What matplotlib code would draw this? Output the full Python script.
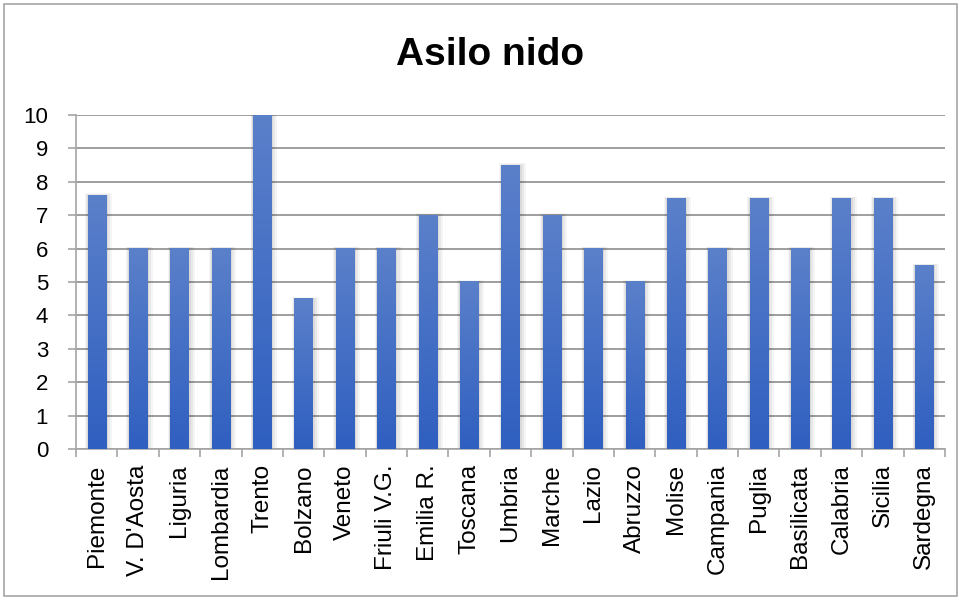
import numpy as np
import matplotlib.pyplot as plt
from matplotlib.patches import Rectangle

# dati: valori
regioni = ["Piemonte", "V. D'Aosta", "Liguria", "Lombardia", "Trento", "Bolzano",
           "Veneto", "Friuli V.G.", "Emilia R.", "Toscana", "Umbria", "Marche",
           "Lazio", "Abruzzo", "Molise", "Campania", "Puglia", "Basilicata",
           "Calabria", "Sicilia", "Sardegna"]
valori = [7.6, 6, 6, 6, 10, 4.5, 6, 6, 7, 5, 8.5, 7, 6, 5, 7.5, 6, 7.5, 6, 7.5, 7.5, 5.5]
yticks = list(range(0, 11))

plt.rcParams['font.family'] = ['Liberation Sans', 'DejaVu Sans']

fig = plt.figure(figsize=(9.64, 5.98), dpi=100)
W, H = 964, 598
ax = fig.add_axes([76 / W, 1 - 449 / H, (945 - 76) / W, (449 - 115) / H])

# bordo del grafico
fig.patches.append(Rectangle((4 / W, 2 / H), (957 - 4) / W, (594 - 2) / H,
                             transform=fig.transFigure, fill=False,
                             edgecolor='#a6a6a6', lw=1.2))

x = np.arange(len(regioni))
bw = 0.44
grad = np.linspace(0, 1, 100).reshape(-1, 1)
cmap = plt.matplotlib.colors.LinearSegmentedColormap.from_list(
    'g', ['#2f5fc0', '#5b80ca'])

for xi, v in zip(x, valori):
    # ombra
    for k, a in enumerate([0.04, 0.05, 0.06]):
        d = 0.035 * (3 - k)
        ax.add_patch(Rectangle((xi - bw / 2 - d * 0.6, 0), bw + 2 * d, v + d * 0.5,
                               facecolor='black', alpha=a, lw=0, zorder=2))
    ax.imshow(grad, extent=(xi - bw / 2, xi + bw / 2, 0, v), origin='lower',
              cmap=cmap, aspect='auto', zorder=3)

ax.set_xlim(-0.5, len(regioni) - 0.5)
ax.set_ylim(0, 10)
ax.set_yticks(yticks)
ax.set_yticklabels([str(t) for t in yticks], fontsize=16)
ax.set_xticks(x)
ax.set_xticklabels(regioni, rotation=90, fontsize=17.5)
ax.tick_params(axis='x', length=0, pad=11)
ax.set_xticks(np.arange(-0.5, len(regioni), 1), minor=True)
ax.tick_params(axis='x', which='minor', length=6, color='#a6a6a6', width=1.2)
ax.tick_params(axis='y', length=6, color='#a6a6a6', width=1.2, pad=14)

ax.grid(axis='y', color='#969696', lw=1.3, zorder=1)
for s in ['top', 'right']:
    ax.spines[s].set_visible(False)
ax.spines['left'].set_color('#a6a6a6')
ax.spines['bottom'].set_color('#a6a6a6')
ax.spines['left'].set_linewidth(1.2)
ax.spines['bottom'].set_linewidth(1.2)

fig.text(490 / W, 1 - 55 / H, 'Asilo nido', ha='center', va='center',
         fontsize=28, fontweight='bold')

fig.savefig('out.png', dpi=100)
